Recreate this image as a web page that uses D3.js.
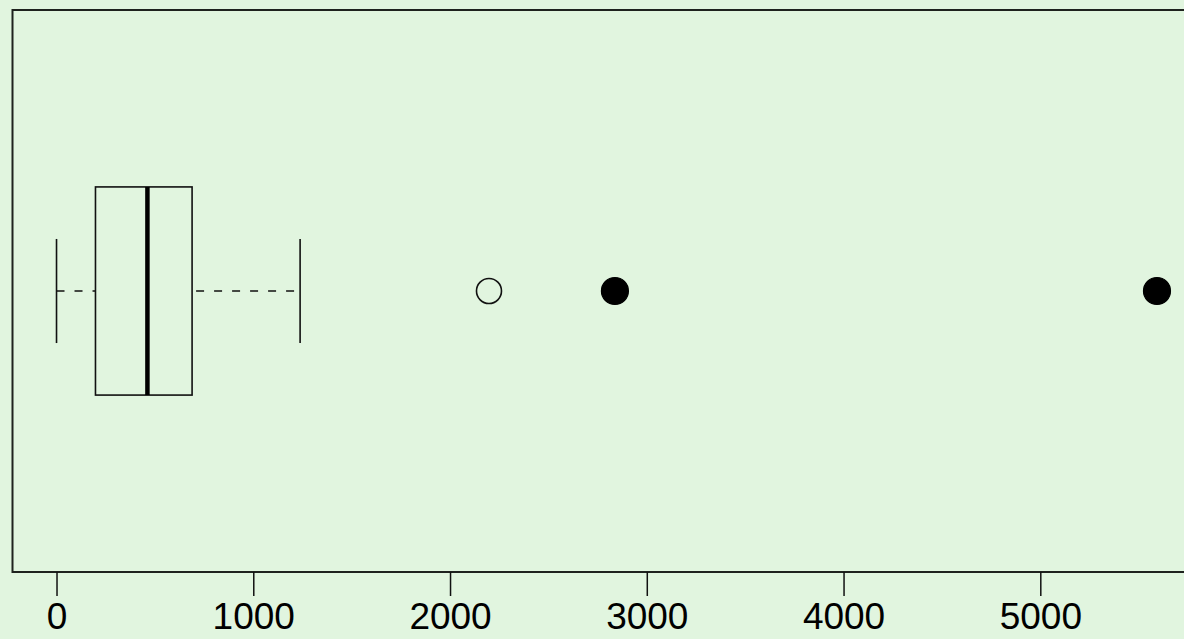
<!DOCTYPE html>
<html>
<head>
<meta charset="utf-8">
<script src="https://cdn.jsdelivr.net/npm/d3@7"></script>
<style>
  html, body { margin: 0; padding: 0; background: #e1f5df; overflow: hidden; }
</style>
</head>
<body>
<div id="wrapper"></div>
<script>
// five-number summary: lower whisker, Q1, median, Q3, upper whisker
const boxStats = [0, 198, 462, 689, 1238]
const openOutliers = [2198]
const filledOutliers = [2838, 5593]
const tickValues = [0, 1000, 2000, 3000, 4000, 5000]

let dimensions = {
    width: 1184,
    height: 639,
    margins: { top: 10, right: -17, bottom: 67, left: 12.5 }
}
dimensions.boundedWidth = dimensions.width - dimensions.margins.left - dimensions.margins.right
dimensions.boundedHeight = dimensions.height - dimensions.margins.top - dimensions.margins.bottom

const wrapper = d3.select("#wrapper")
    .append("svg")
        .attr("width", dimensions.width)
        .attr("height", dimensions.height)
        .style("display", "block")

wrapper.append("rect")
    .attr("width", dimensions.width)
    .attr("height", dimensions.height)
    .attr("fill", "#e1f5df")

const bounds = wrapper.append("g")
    .attr("transform", `translate(${dimensions.margins.left},${dimensions.margins.top})`)

// R-style 4% padding around the data range
const allValues = [...boxStats, ...openOutliers, ...filledOutliers]
const [lo, hi] = d3.extent(allValues)
const pad = (hi - lo) * 0.04
const xScale = d3.scaleLinear()
    .domain([lo - pad, hi + pad])
    .range([0, dimensions.boundedWidth])

const yScale = d3.scaleLinear()
    .domain([0.46, 1.54])
    .range([dimensions.boundedHeight, 0])

const center = 1
const ink = "#111"

// whiskers (dashed)
bounds.append("line")
    .attr("x1", xScale(boxStats[0])).attr("x2", xScale(boxStats[1]))
    .attr("y1", yScale(center)).attr("y2", yScale(center))
    .attr("stroke", ink).attr("stroke-width", 1.5).attr("stroke-dasharray", "8,10")
bounds.append("line")
    .attr("x1", xScale(boxStats[3])).attr("x2", xScale(boxStats[4]))
    .attr("y1", yScale(center)).attr("y2", yScale(center))
    .attr("stroke", ink).attr("stroke-width", 1.5).attr("stroke-dasharray", "8,10")
    .attr("stroke-dashoffset", -4)

// whisker caps
bounds.selectAll(".cap")
    .data([boxStats[0], boxStats[4]])
    .join("line")
        .attr("class", "cap")
        .attr("x1", d => xScale(d)).attr("x2", d => xScale(d))
        .attr("y1", yScale(center + 0.1)).attr("y2", yScale(center - 0.1))
        .attr("stroke", ink).attr("stroke-width", 1.6)

// box
bounds.append("rect")
    .attr("x", xScale(boxStats[1]))
    .attr("y", yScale(center + 0.2))
    .attr("width", xScale(boxStats[3]) - xScale(boxStats[1]))
    .attr("height", yScale(center - 0.2) - yScale(center + 0.2))
    .attr("fill", "none").attr("stroke", ink).attr("stroke-width", 1.6)

// median
bounds.append("line")
    .attr("x1", xScale(boxStats[2])).attr("x2", xScale(boxStats[2]))
    .attr("y1", yScale(center + 0.2)).attr("y2", yScale(center - 0.2))
    .attr("stroke", "#000").attr("stroke-width", 4.5)

// outliers
bounds.selectAll(".open")
    .data(openOutliers)
    .join("circle")
        .attr("class", "open")
        .attr("cx", d => xScale(d)).attr("cy", yScale(center))
        .attr("r", 12.5)
        .attr("fill", "none").attr("stroke", ink).attr("stroke-width", 1.6)

bounds.selectAll(".filled")
    .data(filledOutliers)
    .join("circle")
        .attr("class", "filled")
        .attr("cx", d => xScale(d)).attr("cy", yScale(center))
        .attr("r", 13.5)
        .attr("fill", "#000").attr("stroke", "#000").attr("stroke-width", 1.2)

// frame
bounds.append("rect")
    .attr("width", dimensions.boundedWidth)
    .attr("height", dimensions.boundedHeight)
    .attr("fill", "none").attr("stroke", "#1e221e").attr("stroke-width", 2)

// x axis
const xAxisGenerator = d3.axisBottom(xScale)
    .tickValues(tickValues)
    .tickFormat(d3.format("d"))
    .tickSize(24)
    .tickPadding(7)
const xAxis = bounds.append("g")
    .attr("transform", `translate(0,${dimensions.boundedHeight})`)
    .call(xAxisGenerator)
xAxis.select(".domain").remove()
xAxis.selectAll(".tick line").attr("stroke", ink).attr("stroke-width", 1.5)
xAxis.selectAll(".tick text")
    .attr("fill", "#000")
    .style("font-family", "'Liberation Sans', Arial, Helvetica, sans-serif")
    .style("font-size", "37px")
</script>
</body>
</html>
